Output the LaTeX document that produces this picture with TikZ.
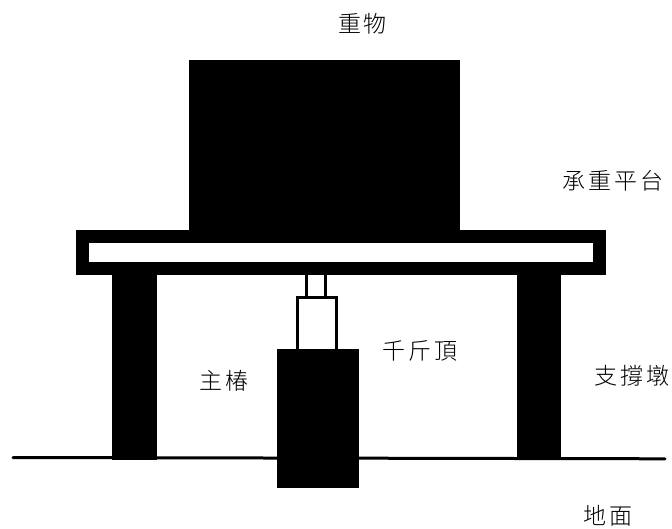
\documentclass[tikz,border=0pt]{standalone}
\usepackage{fontspec}
\newfontfamily\cjk{Noto Sans CJK TC Light}
\tikzset{
  solidblock/.style={fill=black,draw=none},
  hollow/.style={fill=white,draw=none},
  lbl/.style={font=\cjk\fontsize{23pt}{25pt}\selectfont,text=black,inner sep=0pt,anchor=center},
  groundline/.style={draw=black,line width=3pt,line cap=round}
}
\begin{document}
\begin{tikzpicture}[x=1pt,y=-1pt]
\useasboundingbox (0,0) rectangle (672,529);
\fill[white] (0,0) rectangle (672,529);
\coordinate (gl) at (13,457.5);
\coordinate (gr) at (665,458.8);
\draw[groundline] (gl) -- (gr);
\node[solidblock,minimum width=271pt,minimum height=170pt,inner sep=0pt] (weight) at (324.5,145) {};
\node[solidblock,minimum width=530pt,minimum height=45.5pt,inner sep=0pt] (platform) at (341,252.5) {};
\node[hollow,minimum width=504pt,minimum height=19pt,inner sep=0pt] (slot) at (341,252.5) {};
\node[solidblock,minimum width=44.5pt,minimum height=185pt,inner sep=0pt] (pierL) at (134.5,367.5) {};
\node[solidblock,minimum width=44pt,minimum height=183pt,inner sep=0pt] (pierR) at (539,366.5) {};
\node[solidblock,minimum width=22.5pt,minimum height=22pt,inner sep=0pt] (rod) at (316,286) {};
\node[hollow,minimum width=16pt,minimum height=22pt,inner sep=0pt] (rodin) at (316,286) {};
\node[solidblock,minimum width=42.5pt,minimum height=53pt,inner sep=0pt] (cyl) at (317.2,322.5) {};
\node[hollow,minimum width=36pt,minimum height=50pt,inner sep=0pt] (cylin) at (317.2,324) {};
\node[solidblock,minimum width=82pt,minimum height=139pt,inner sep=0pt] (pile) at (317.5,418) {};
\node[lbl] (t1) at (362.5,24) {重\hspace{3pt}物};
\node[lbl] (t2) at (613,181) {承\hspace{3pt}重\hspace{3pt}平\hspace{3pt}台};
\node[lbl] (t3) at (420,351) {千\hspace{3pt}斤\hspace{3pt}頂};
\node[lbl] (t4) at (224,381) {主\hspace{3pt}椿};
\node[lbl] (t5) at (632,376) {支\hspace{3pt}撐\hspace{3pt}墩};
\node[lbl] (t6) at (608,516) {地\hspace{3pt}面};
\end{tikzpicture}
\end{document}
